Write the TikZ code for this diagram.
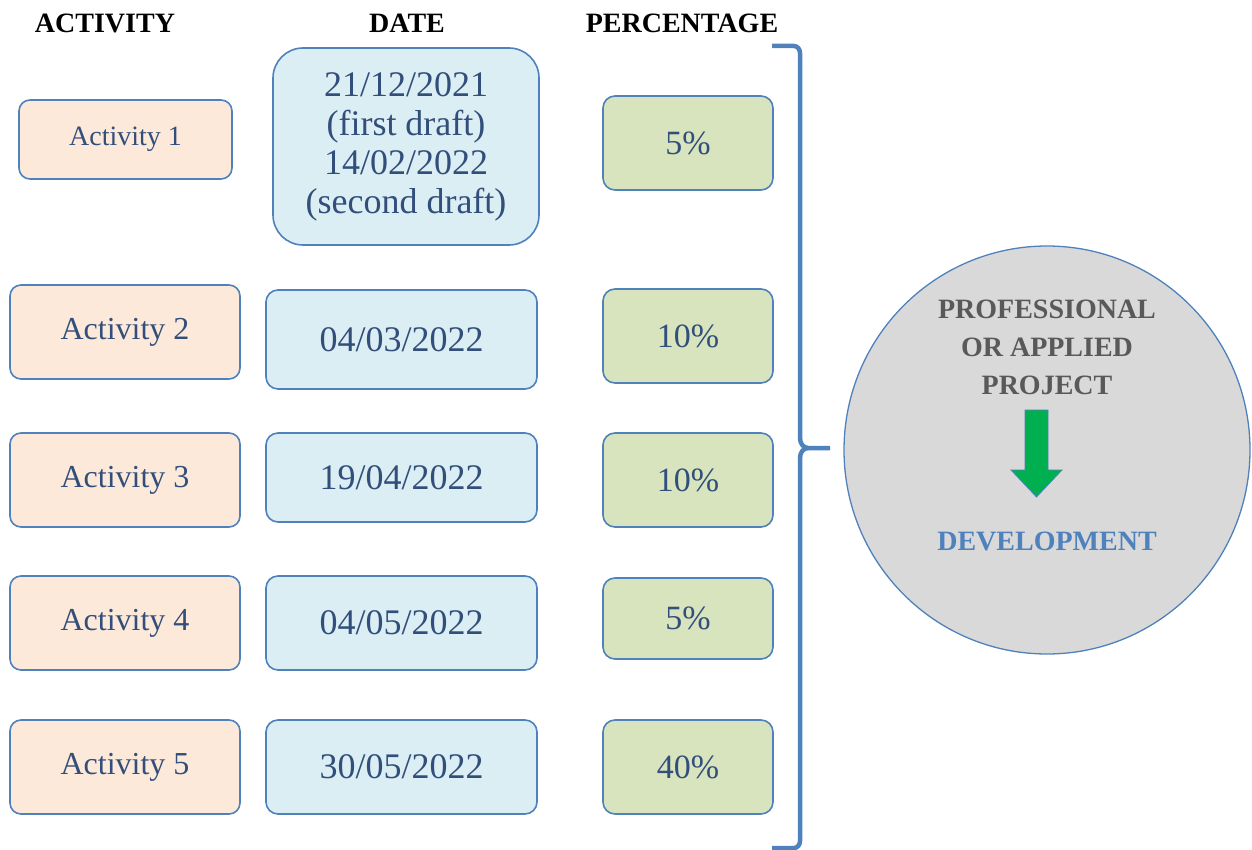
\documentclass[tikz,border=0pt]{standalone}
\usepackage{fontspec}
\setmainfont{Liberation Serif}
\usepackage{xcolor}
\usetikzlibrary{positioning,shapes.geometric}

\definecolor{lineblue}{RGB}{79,129,189}
\definecolor{boxtext}{RGB}{50,78,122}
\definecolor{actfill}{RGB}{252,233,218}
\definecolor{datefill}{RGB}{219,238,244}
\definecolor{pctfill}{RGB}{215,228,189}
\definecolor{ovalfill}{RGB}{217,217,217}
\definecolor{projgray}{RGB}{89,89,89}
\definecolor{arrgreen}{RGB}{0,176,80}

\begin{document}
\begin{tikzpicture}[x=1pt,y=-1pt,
  every node/.style={align=center},
  head/.style={font=\fontsize{28}{32}\selectfont\bfseries},
  actbox/.style={draw=lineblue,line width=1.6pt,fill=actfill,rounded corners=11pt,
    text=boxtext,minimum width=230pt,minimum height=94pt,font=\fontsize{32}{38}\selectfont},
  datebox/.style={draw=lineblue,line width=1.6pt,fill=datefill,rounded corners=12pt,
    text=boxtext,minimum width=271pt,minimum height=94pt,font=\fontsize{36}{39}\selectfont},
  pctbox/.style={draw=lineblue,line width=1.6pt,fill=pctfill,rounded corners=12pt,
    text=boxtext,minimum width=170pt,font=\fontsize{34}{38}\selectfont}
]
\useasboundingbox (0,0) rectangle (1252,850);

% the headings
\node[head] (hact) at (105,23) {ACTIVITY};
\node[head] (hdate) at (407,23) {DATE};
\node[head] (hpct) at (682,23) {PERCENTAGE};

% the activities
\node[actbox,minimum width=213pt,minimum height=79pt,font=\fontsize{28}{32}\selectfont] (A1) at (125.5,139.5) {Activity 1};
\foreach \i/\y in {2/332,3/480,4/623,5/767}
  \node[actbox] (A\i) at (125,\y) {Activity \i};

% the dates
\node[datebox,minimum width=266pt,minimum height=197pt,rounded corners=30pt,inner sep=0pt] (D1) at (406,146.5)
  {21/12/2021\\(first draft)\\14/02/2022\\(second draft)};
\foreach \i/\y/\h/\t in {2/339.5/99/{04/03/2022},3/477.5/89/{19/04/2022},4/623/94/{04/05/2022},5/767/94/{30/05/2022}}
  \node[datebox,minimum height=\h pt] (D\i) at (401.5,\y) {\t};

% the percentages
\foreach \i/\y/\h/\t in {1/143/94/5,2/336/94/10,3/480/94/10,4/618.5/81/5,5/767/94/40}
  \node[pctbox,minimum height=\h pt] (P\i) at (688,\y) {\t\%};

% the bracket
\draw[lineblue,line width=4.5pt,line join=round]
  (772,46) -- (794,46) to[out=0,in=90] (800,53) -- (800,438)
  to[out=-90,in=180] (808,448) -- (830,448);
\draw[lineblue,line width=4.5pt,line join=round]
  (808,448) to[out=180,in=90] (800,458) -- (800,841)
  to[out=-90,in=0] (794,848) -- (772,848);

% the project
\node[ellipse,draw=lineblue,line width=1.3pt,fill=ovalfill,minimum width=406pt,minimum height=408pt] (E) at (1047,450) {};
\node[text=projgray,font=\fontsize{28}{38}\selectfont\bfseries] (proj) at (1047,347)
  {PROFESSIONAL\\OR APPLIED\\PROJECT};
\node[text=lineblue,font=\fontsize{28}{32}\selectfont\bfseries] (dev) at (1047,541) {DEVELOPMENT};
\draw[fill=arrgreen,draw=lineblue,line width=0.8pt]
  (1025,410) -- (1048,410) -- (1048,470) -- (1062,470) -- (1036.5,497)
  -- (1011,470) -- (1025,470) -- cycle;

\end{tikzpicture}
\end{document}
